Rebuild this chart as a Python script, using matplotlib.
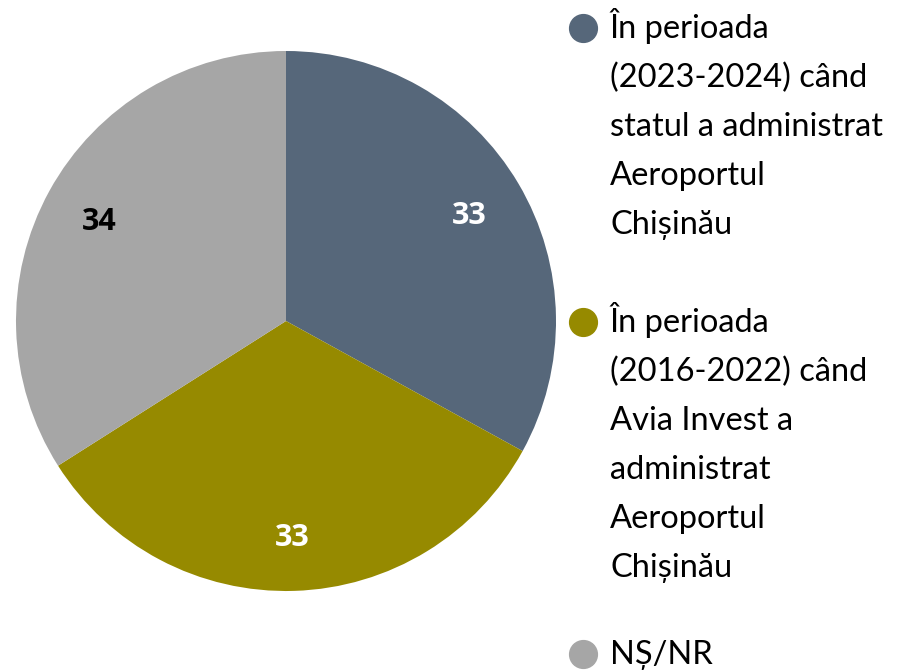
import matplotlib
matplotlib.use("Agg")
import matplotlib.pyplot as plt
from matplotlib.lines import Line2D

plt.rcParams['font.family'] = ['Lato', 'DejaVu Sans']

categories = [
    "În perioada\n(2023-2024) când\nstatul a administrat\nAeroportul\nChișinău",
    "În perioada\n(2016-2022) când\nAvia Invest a\nadministrat\nAeroportul\nChișinău",
    "NȘ/NR",
]
values = [33, 33, 34]
colors = ["#56677A", "#968A00", "#A6A6A6"]
label_colors = ["white", "white", "black"]

W, H = 908, 670
fig = plt.figure(figsize=(W / 100, H / 100), dpi=100)

cx, cy, r = 286, 321, 270
ax = fig.add_axes([(cx - r) / W, (H - cy - r) / H, 2 * r / W, 2 * r / H])
wedges, texts = ax.pie(values, colors=colors, startangle=90, counterclock=False,
                       labels=[str(v) for v in values], labeldistance=0.79,
                       radius=1.0, wedgeprops=dict(linewidth=0),
                       textprops=dict(fontsize=22, fontweight='bold',
                                      family=['Open Sans', 'DejaVu Sans']))
for t, c in zip(texts, label_colors):
    t.set_color(c)
    t.set_ha('center')
    t.set_va('center_baseline')
ax.set_xlim(-1, 1)
ax.set_ylim(-1, 1)
ax.set_aspect('equal')
ax.axis('off')

# legend drawn manually: marker beside first line
text_x = 610
marker_x = 583
first_baselines = [38, 332, 664]
line_step = 49
for label, color, base in zip(categories, colors, first_baselines):
    lines = label.split("\n")
    for i, line in enumerate(lines):
        fig.text(text_x / W, 1 - (base + i * line_step) / H, line,
                 fontsize=23.5, color="black", ha='left', va='baseline')
    fig.add_artist(Line2D([marker_x / W], [1 - (base - 10) / H], marker='o',
                          markersize=20, color=color, linestyle='none',
                          transform=fig.transFigure))

fig.savefig("out.png", dpi=100)
